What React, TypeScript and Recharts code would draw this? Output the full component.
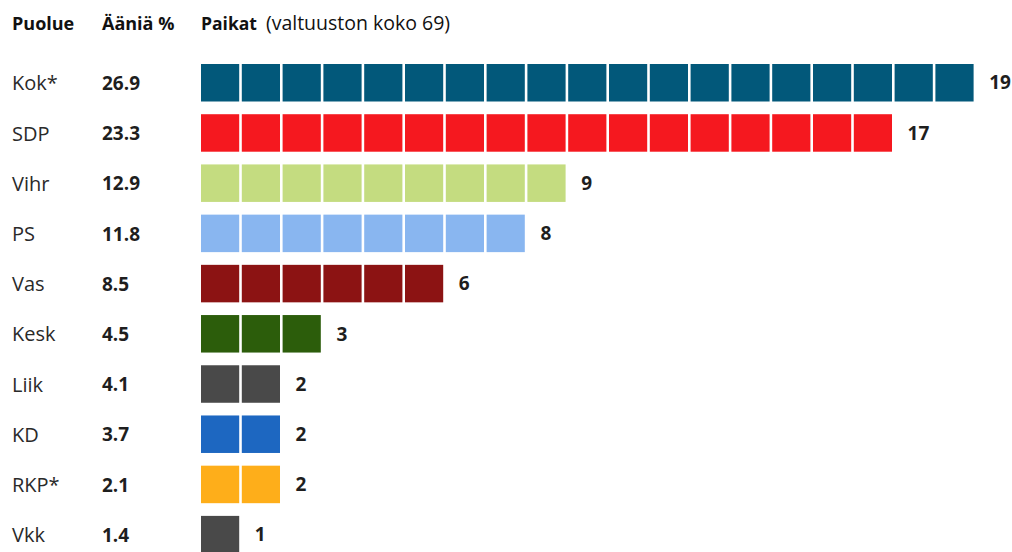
import React from 'react';
import { BarChart, Bar, XAxis, YAxis, LabelList } from 'recharts';

const parties = ['Kok*', 'SDP', 'Vihr', 'PS', 'Vas', 'Kesk', 'Liik', 'KD', 'RKP*', 'Vkk'];
const votes = ['26.9', '23.3', '12.9', '11.8', '8.5', '4.5', '4.1', '3.7', '2.1', '1.4'];
const seats = [19, 17, 9, 8, 6, 3, 2, 2, 2, 1];
const colors = ['#02587a', '#f5181f', '#c4dc80', '#89b6f0', '#8c1313', '#2c5d0b', '#494949', '#1d67c1', '#feae1a', '#494949'];
const maxSeats = 19;
const headers = { party: 'Puolue', votes: 'Ääniä %', seats: 'Paikat', seatsNote: '(valtuuston koko 69)' };

const data = parties.map((p, i) => ({ party: p, votes: votes[i], seats: seats[i], color: colors[i] }));

const FONT = '"Open Sans", "Noto Sans", sans-serif';
const TEXT = '#1e1e1e';

const SeatShape = (props: any) => {
  const { x, y, width, height, payload } = props;
  const n = payload.seats;
  const pitch = width / n;
  const gap = 2.6;
  const cells = [];
  for (let k = 0; k < n; k++) {
    cells.push(
      <rect key={k} x={x + k * pitch} y={y} width={pitch - gap} height={height} fill={payload.color} />
    );
  }
  return <g>{cells}</g>;
};

const PartyTick = (props: any) => {
  const { y, payload, index } = props;
  const v = votes[index] ?? data.find((d) => d.party === payload.value)?.votes;
  return (
    <g>
      <text x={12} y={y} dy="0.36em" fontFamily={FONT} fontSize={20} fill="#2a2a2a" textAnchor="start">
        {payload.value}
      </text>
      <text x={102} y={y} dy="0.36em" fontFamily={FONT} fontSize={19} fontWeight={700} fill={TEXT} textAnchor="start">
        {v}
      </text>
    </g>
  );
};

export default function App() {
  return (
    <div style={{ position: 'fixed', left: 0, top: 0, width: 1012, height: 552, overflow: 'hidden', background: '#fff' }}>
      <svg width={1012} height={50} style={{ position: 'absolute', left: 0, top: 0 }}>
        <text x={12} y={30} fontFamily={FONT} fontSize={18} fontWeight={700} fill="#111">{headers.party}</text>
        <text x={102} y={30} fontFamily={FONT} fontSize={18} fontWeight={700} fill="#111">{headers.votes}</text>
        <text x={201} y={30} fontFamily={FONT} fontSize={17.5} fill="#111">
          <tspan fontWeight={700}>{headers.seats}</tspan>
          <tspan fontWeight={400} fontSize={19.5} dx={9}>{headers.seatsNote}</tspan>
        </text>
      </svg>
      <div style={{ position: 'absolute', left: 0, top: 0 }}>
        <BarChart
          width={1012}
          height={570}
          data={data}
          layout="vertical"
          margin={{ top: 58, right: 35.8, bottom: 9.9, left: 0 }}
        >
          <XAxis type="number" domain={[0, maxSeats]} hide allowDataOverflow />
          <YAxis
            type="category"
            dataKey="party"
            width={201}
            axisLine={false}
            tickLine={false}
            tick={<PartyTick />}
            interval={0}
          />
          <Bar dataKey="seats" barSize={37.5} shape={SeatShape} isAnimationActive={false}>
            <LabelList
              dataKey="seats"
              position="right"
              offset={13}
              fontFamily={FONT}
              fontSize={19}
              fontWeight={700}
              fill={TEXT}
            />
          </Bar>
        </BarChart>
      </div>
    </div>
  );
}
